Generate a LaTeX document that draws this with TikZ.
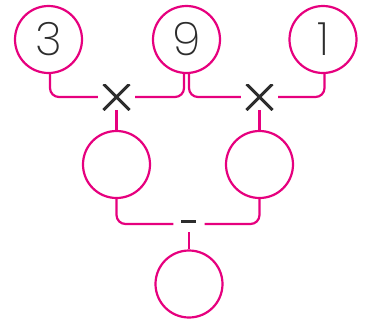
\documentclass[tikz,border=0pt]{standalone}
\usepackage{fontspec}
\setmainfont{Poppins}[UprightFont=* ExtraLight]
\definecolor{mag}{RGB}{230,0,126}
\definecolor{ink}{RGB}{45,45,45}
\begin{document}
\begin{tikzpicture}[x=1pt,y=-1pt,
  num/.style={circle,draw=mag,line width=2.2pt,minimum size=67pt,inner sep=0pt,
    font=\fontsize{46}{46}\selectfont,text=ink},
  opx/.style={minimum width=37pt,minimum height=26pt,inner sep=0pt,
    path picture={\draw[ink,line width=3pt]
      ([shift={(-13pt,-13pt)}]path picture bounding box.center) -- ([shift={(13pt,13pt)}]path picture bounding box.center)
      ([shift={(-13pt,13pt)}]path picture bounding box.center) -- ([shift={(13pt,-13pt)}]path picture bounding box.center);}},
  opm/.style={minimum width=31pt,minimum height=16pt,inner sep=0pt,
    path picture={\draw[ink,line width=2.8pt]
      ([shift={(-7.5pt,2.5pt)}]path picture bounding box.center) -- ([shift={(7.5pt,2.5pt)}]path picture bounding box.center);}},
  conn/.style={draw=mag,line width=2.2pt,rounded corners=9pt}]
\useasboundingbox (0,0) rectangle (368,325);
\node[num] (c3) at (48.5,39.5) {3};
\node[num] (c9) at (186.5,39.5) {9};
\node[num] (c1) at (323,39.5) {1};
\node[opx] (x1) at (116.5,97) {};
\node[opx] (x2) at (259.5,97) {};
\node[num] (m1) at (116.5,164.5) {};
\node[num] (m2) at (259.5,164.5) {};
\node[opm] (mi) at (189,224) {};
\node[num] (b) at (189,284) {};
\draw[conn] ([xshift=1.5pt]c3.south) |- (x1.west);
\draw[conn] ([xshift=-2.5pt]c9.south) |- (x1.east);
\draw[conn] ([xshift=2.5pt]c9.south) |- (x2.west);
\draw[conn] ([xshift=1.5pt]c1.south) |- (x2.east);
\draw[conn] (x1.south) -- (m1.north);
\draw[conn] (x2.south) -- (m2.north);
\draw[conn] (m1.south) |- (mi.west);
\draw[conn] (m2.south) |- (mi.east);
\draw[conn] (mi.south) -- (b.north);
\end{tikzpicture}
\end{document}
